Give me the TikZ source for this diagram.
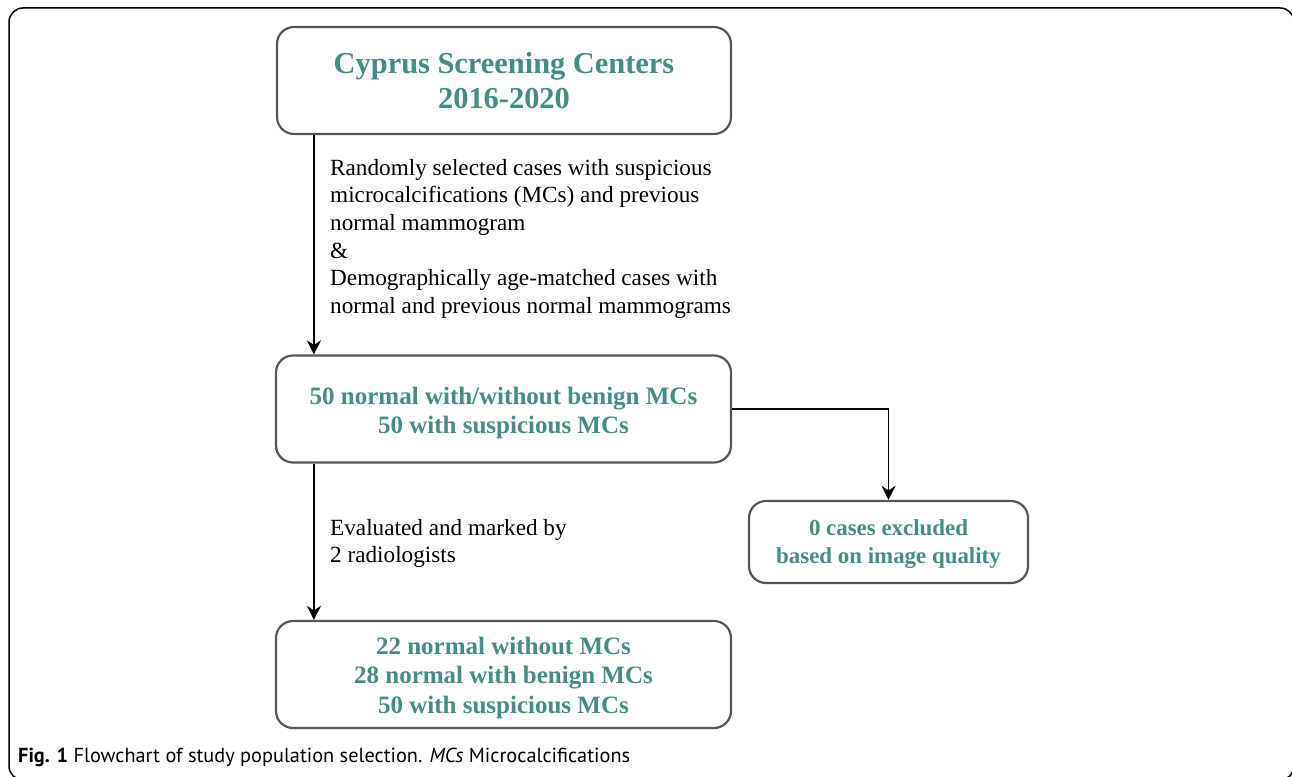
\documentclass[tikz,border=0pt]{standalone}
\usepackage{fontspec}
\setmainfont{Liberation Serif}
\newfontfamily\capfont{PT Sans}
\usetikzlibrary{arrows.meta,calc}
\definecolor{boxteal}{RGB}{68,140,133}
\definecolor{boxgray}{RGB}{85,85,85}
% invisible strut that adds room above the first line of a box
\newcommand{\padtop}[1]{\rule{0pt}{#1}}
\begin{document}
\begin{tikzpicture}[x=1pt,y=-1pt,
  box/.style={draw=boxgray, line width=2.2pt, rounded corners=17pt, fill=white,
    inner sep=0pt, align=center, text=boxteal,
    font=\bfseries\fontsize{25}{29.5}\selectfont},
  flow/.style={draw=black, line width=1.8pt,
    -{Stealth[length=14pt,width=14pt,inset=4.5pt]}},
  note/.style={anchor=north west, inner sep=0pt, align=left,
    font=\fontsize{23.2}{27.6}\selectfont}]
\useasboundingbox (0,0) rectangle (1292,776);
\clip (0,0) rectangle (1292,776);
% outer figure frame
\draw[line width=1.5pt, rounded corners=14pt] (9,8) rectangle (1294,780);

% flowchart boxes
\node[box, minimum width=454pt, minimum height=107pt,
  font=\bfseries\fontsize{30.4}{35}\selectfont] (src) at (504,80.5)
  {Cyprus Screening Centers\\2016-2020};
\node[box, minimum width=455pt, minimum height=107pt] (pool) at (503.5,409)
  {\padtop{25pt}50 normal with/without benign MCs\\50 with suspicious MCs};
\node[box, minimum width=279pt, minimum height=82pt,
  font=\bfseries\fontsize{22.9}{28.5}\selectfont] (excl) at (888.5,542)
  {\padtop{20pt}0 cases excluded\\based on image quality};
\node[box, minimum width=455pt, minimum height=107pt] (final) at (503.5,674.5)
  {\padtop{24pt}22 normal without MCs\\28 normal with benign MCs\\50 with suspicious MCs};

% connectors
\draw[flow] ($(src.south west)+(38,0)$) -- ($(pool.north west)+(39,0)$);
\draw[flow] (pool.east) -| (excl.north);
\draw[flow] ($(pool.south west)+(39,0)$) -- ($(final.north west)+(39,0)$);

% connector notes
\node[note] (sel) at (330,159)
  {Randomly selected cases with suspicious\\
   microcalcifications (MCs) and previous\\
   normal mammogram\\
   \&\\
   Demographically age-matched cases with\\
   normal and previous normal mammograms};
\node[note] (eval) at (330,519)
  {Evaluated and marked by\\2 radiologists};

% caption
\node[anchor=base west, inner sep=0pt,
  font=\capfont\fontsize{20.3}{24}\selectfont] (cap) at (18,762)
  {\textbf{Fig. 1} Flowchart of study population selection. \textit{MCs} Microcalcifications};
\end{tikzpicture}
\end{document}
